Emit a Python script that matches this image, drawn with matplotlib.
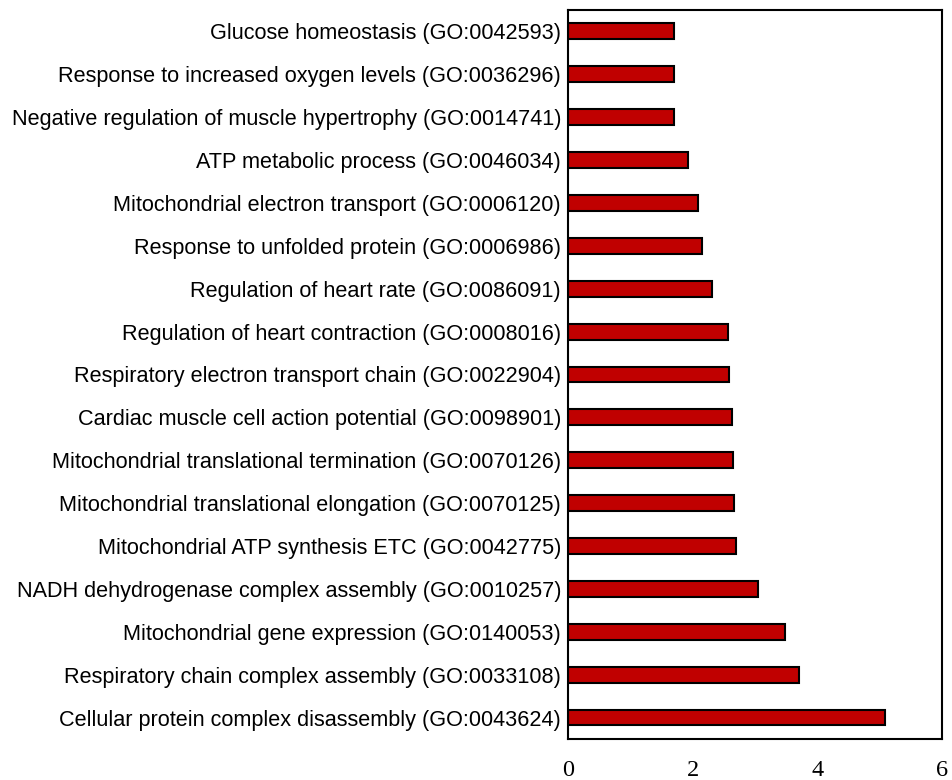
import matplotlib
matplotlib.use("Agg")
import matplotlib.pyplot as plt

# GO terms, top to bottom as shown in the chart
terms = [
    "Glucose homeostasis (GO:0042593)",
    "Response to increased oxygen levels (GO:0036296)",
    "Negative regulation of muscle hypertrophy (GO:0014741)",
    "ATP metabolic process (GO:0046034)",
    "Mitochondrial electron transport (GO:0006120)",
    "Response to unfolded protein (GO:0006986)",
    "Regulation of heart rate (GO:0086091)",
    "Regulation of heart contraction (GO:0008016)",
    "Respiratory electron transport chain (GO:0022904)",
    "Cardiac muscle cell action potential (GO:0098901)",
    "Mitochondrial translational termination (GO:0070126)",
    "Mitochondrial translational elongation (GO:0070125)",
    "Mitochondrial ATP synthesis ETC (GO:0042775)",
    "NADH dehydrogenase complex assembly (GO:0010257)",
    "Mitochondrial gene expression (GO:0140053)",
    "Respiratory chain complex assembly (GO:0033108)",
    "Cellular protein complex disassembly (GO:0043624)",
]
scores = [1.70, 1.70, 1.70, 1.93, 2.09, 2.15, 2.31, 2.57, 2.58,
          2.63, 2.65, 2.66, 2.70, 3.05, 3.48, 3.71, 5.09]
xticks = [0, 2, 4, 6]

fig = plt.figure(figsize=(9.52, 7.8), dpi=100)
ax = fig.add_axes([0.5966, 0.0526, 0.3929, 0.9346])

ypos = list(range(len(terms)))[::-1]  # first term at the top
ax.barh(ypos, scores, height=0.37, color="#C00000", edgecolor="black", linewidth=1.5)

ax.set_xlim(0, 6)
ax.set_ylim(-0.5, len(terms) - 0.5)
ax.set_yticks(ypos)
ax.set_yticklabels(terms, fontsize=15.6, family="Liberation Sans")
ax.set_xticks(xticks)
ax.set_xticklabels([str(t) for t in xticks], fontsize=17.5, family="Liberation Serif")
ax.tick_params(axis="both", length=0)
ax.tick_params(axis="x", pad=15)
ax.tick_params(axis="y", pad=5)
for s in ax.spines.values():
    s.set_linewidth(1.5)

fig.savefig("out.png", dpi=100)
